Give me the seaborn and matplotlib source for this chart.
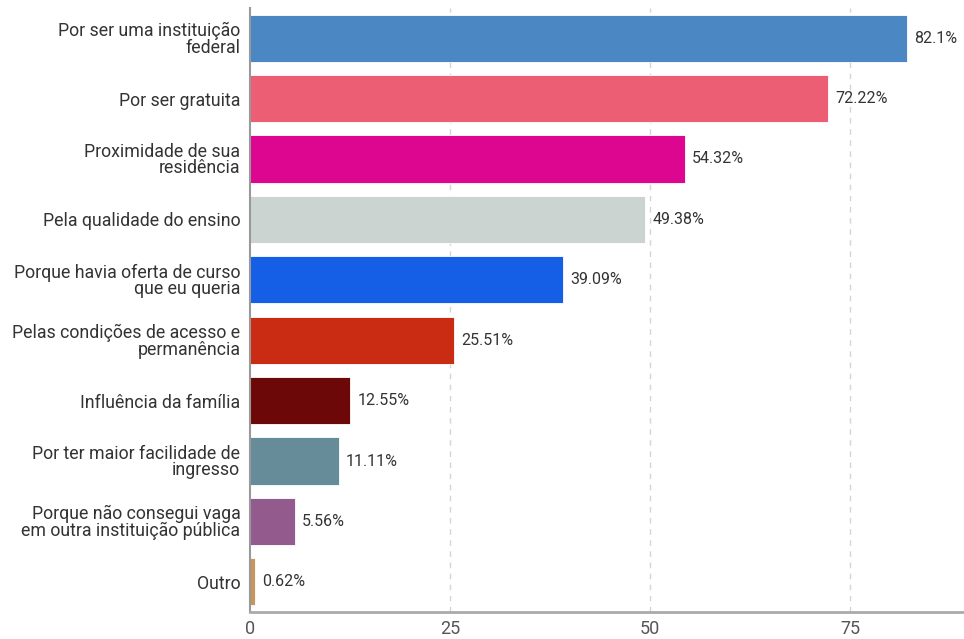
import matplotlib
matplotlib.use("Agg")
import matplotlib.pyplot as plt
import seaborn as sns
import pandas as pd

# Dados do gráfico
categorias = [
    "Por ser uma instituição\nfederal",
    "Por ser gratuita",
    "Proximidade de sua\nresidência",
    "Pela qualidade do ensino",
    "Porque havia oferta de curso\nque eu queria",
    "Pelas condições de acesso e\npermanência",
    "Influência da família",
    "Por ter maior facilidade de\ningresso",
    "Porque não consegui vaga\nem outra instituição pública",
    "Outro",
]
valores = [82.1, 72.22, 54.32, 49.38, 39.09, 25.51, 12.55, 11.11, 5.56, 0.62]
rotulos = ["82.1%", "72.22%", "54.32%", "49.38%", "39.09%", "25.51%", "12.55%", "11.11%", "5.56%", "0.62%"]
cores = ["#4A87C3", "#EC5E74", "#DC0690", "#CCD4D2", "#155EE6",
         "#C92C12", "#6D0808", "#668C9A", "#935B8D", "#C8955A"]
xticks = [0, 25, 50, 75]

df = pd.DataFrame({"categoria": categorias, "valor": valores})

sns.set_style("white")
plt.rcParams["font.family"] = ["Roboto", "DejaVu Sans"]

fig = plt.figure(figsize=(9.64, 6.39), dpi=100)
ax = fig.add_axes([250 / 964, 27 / 639, 1 - 250 / 964, (612 - 8) / 639])

# Barras horizontais
sns.barplot(data=df, x="valor", y="categoria", hue="categoria", palette=cores,
            legend=False, width=0.78, ax=ax, saturation=1, edgecolor="white", linewidth=0.6)

# Rótulos de valor
for i, (v, r) in enumerate(zip(valores, rotulos)):
    ax.text(v + 0.9, i, r, va="center", ha="left", fontsize=11.5, color="#333333")

ax.set_xlim(0, 89.2)
ax.set_ylim(9.5, -0.5)
ax.set_xticks(xticks)
ax.set_xticklabels([str(t) for t in xticks], fontsize=13, color="#555555")
ax.set_xlabel("")
ax.set_ylabel("")
ax.tick_params(axis="y", labelsize=12.8, labelcolor="#333333", length=5, width=1, color="#777777", pad=2)
ax.tick_params(axis="x", length=5, width=1, color="#999999", pad=1)
for lbl in ax.get_yticklabels():
    lbl.set_linespacing(0.88)

# Grade tracejada
for t in xticks[1:]:
    ax.axvline(t, color="#d5d5d5", linestyle=(0, (4, 4)), linewidth=1, zorder=0)

sns.despine(ax=ax, top=True, right=True)
ax.spines["left"].set_color("#999999")
ax.spines["left"].set_linewidth(1.5)
ax.spines["bottom"].set_color("#aaaaaa")
ax.spines["bottom"].set_linewidth(2)

fig.savefig("out.png", dpi=100)
